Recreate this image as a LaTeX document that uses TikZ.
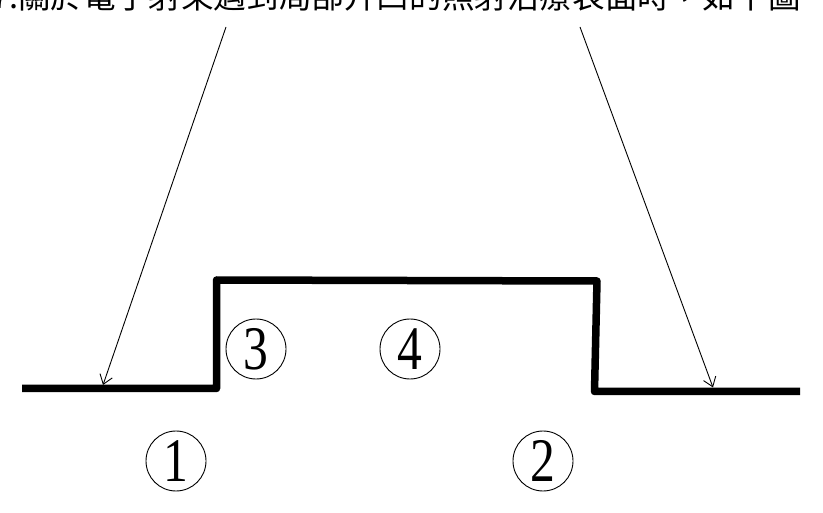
\documentclass[tikz,border=0pt]{standalone}
\usepackage{fontspec}
\newfontfamily\cjk{Noto Sans CJK TC}
\newfontfamily\numfont{Liberation Serif}
\usetikzlibrary{arrows.meta}

\begin{document}
\begin{tikzpicture}[x=1pt,y=-1pt,>={Straight Barb[length=9pt,width=13pt]},
    surface/.style={line width=7.5pt,line join=round},
    beam/.style={->,line width=0.9pt},
    num node/.style={circle,draw,line width=0.9pt,minimum size=60pt,inner sep=0pt,font=\numfont\fontsize{62}{62}\selectfont}]
    \useasboundingbox (0,0) rectangle (823,513);
    \clip (0,0) rectangle (823,513);

    % question text, cut off at the top
    \node[anchor=base west,inner sep=0pt,font=\cjk\fontsize{32.6}{33}\selectfont] (title) at (-9,9) {7.關於電子射束遇到局部升凹的照射治療表面時，如下圖};

    % the surface
    \coordinate (s1) at (22,388.5);
    \coordinate (s2) at (216.5,388.5);
    \coordinate (s3) at (216.5,280);
    \coordinate (s4) at (597,281);
    \coordinate (s5) at (594.5,391.5);
    \coordinate (s6) at (800,391.5);
    \draw[surface] (s1) -- (s2) -- (s3) -- (s4) -- (s5) -- (s6);

    % electron beams
    \coordinate (beamL) at (226,27);
    \coordinate (hitL) at (103,385);
    \coordinate (beamR) at (580,27);
    \coordinate (hitR) at (713,387.5);
    \draw[beam] (beamL) -- (hitL);
    \draw[beam] (beamR) -- (hitR);

    % numbered points
    \node[num node] (p1) at (176,461) {\scalebox{0.8}[1]{1}};
    \node[num node] (p2) at (543,461) {\scalebox{0.8}[1]{2}};
    \node[num node] (p3) at (256,349) {\scalebox{0.8}[1]{3}};
    \node[num node] (p4) at (410,349) {\scalebox{0.8}[1]{4}};
\end{tikzpicture}
\end{document}
